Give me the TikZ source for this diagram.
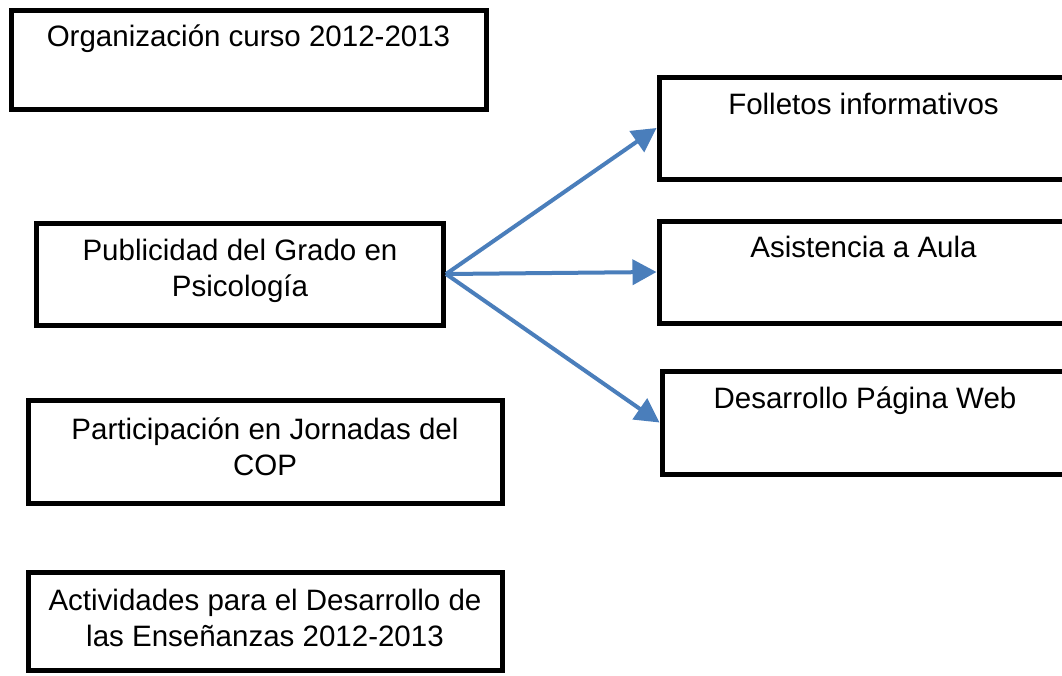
\documentclass[tikz,border=0pt]{standalone}
\usepackage{fontspec}
\setmainfont{Liberation Sans}
\usetikzlibrary{arrows.meta}
\definecolor{azul}{RGB}{74,126,187}
\tikzset{
  caja/.style={draw,line width=5pt,inner sep=0pt},
  texto/.style={align=center,anchor=base,inner sep=0pt,font=\fontsize{29.5}{36}\selectfont},
  flecha/.style={azul,line width=4pt,-{Triangle[length=24pt,width=25pt]}}
}

\begin{document}
\begin{tikzpicture}[x=1pt,y=-1pt]
% page
\useasboundingbox[fill=white] (0,0) rectangle (1062,675);
% left boxes
\node[caja,minimum width=475pt,minimum height=99pt] (org) at (248.5,59.5) {};
\node[caja,minimum width=407pt,minimum height=102pt] (pub) at (240,274) {};
\node[caja,minimum width=474pt,minimum height=103pt] (par) at (265,451.5) {};
\node[caja,minimum width=474pt,minimum height=98pt] (act) at (265,621) {};
% right boxes
\node[caja,minimum width=409pt,minimum height=102pt] (fol) at (863.5,128) {};
\node[caja,minimum width=409pt,minimum height=102pt] (asi) at (863.5,272) {};
\node[caja,minimum width=406pt,minimum height=103pt] (des) at (865,422.5) {};
% texts (base = last line)
\node[texto] (orgtxt) at ([yshift=-39pt]org.north) {Organización curso 2012-2013};
\node[texto] (pubtxt) at ([yshift=-76pt]pub.north) {Publicidad del Grado en\\Psicología};
\node[texto] (partxt) at ([yshift=-78pt]par.north) {Participación en Jornadas del\\COP};
\node[texto] (acttxt) at ([yshift=-77pt]act.north) {Actividades para el Desarrollo de\\las Enseñanzas 2012-2013};
\node[texto] (foltxt) at ([yshift=-40pt]fol.north) {Folletos informativos};
\node[texto] (asitxt) at ([yshift=-39pt]asi.north) {Asistencia a Aula};
\node[texto] (destxt) at ([yshift=-40pt]des.north) {Desarrollo Página Web};
% arrows
\draw[flecha] (pub.east) -- (fol.west);
\draw[flecha] (pub.east) -- (asi.west);
\draw[flecha] (pub.east) -- (des.west);
\end{tikzpicture}
\end{document}
